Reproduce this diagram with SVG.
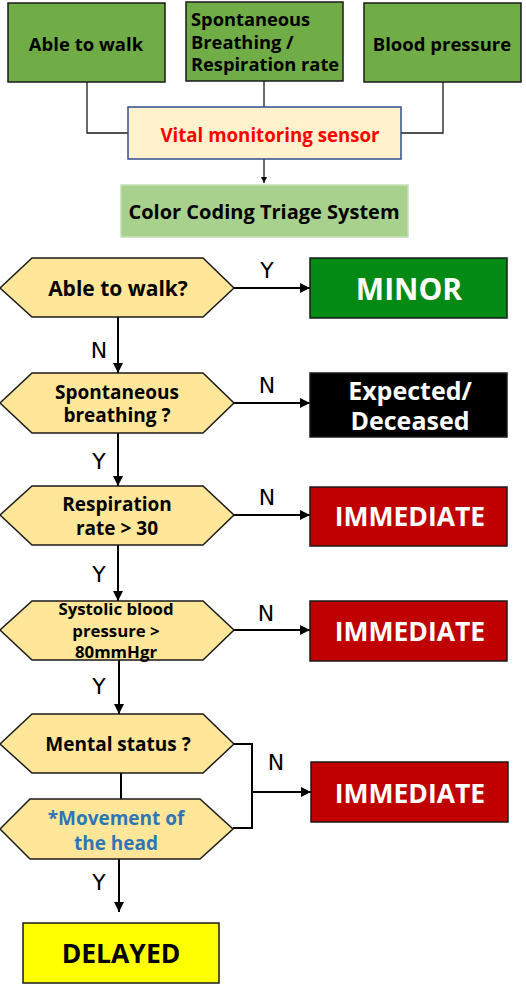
<svg xmlns="http://www.w3.org/2000/svg" width="526" height="984" viewBox="0 0 526 984">
<defs>
<marker id="ah" viewBox="0 0 10 10" refX="10" refY="5" markerWidth="10" markerHeight="10" markerUnits="userSpaceOnUse" orient="auto"><path d="M0,0 L10,5 L0,10 z" fill="#000"/></marker>
<marker id="ahs" viewBox="0 0 10 10" refX="10" refY="5" markerWidth="6" markerHeight="6" markerUnits="userSpaceOnUse" orient="auto"><path d="M0,0 L10,5 L0,10 z" fill="#000"/></marker>
<style>
.t{font-family:"Open Sans","Noto Sans",sans-serif;font-weight:bold;text-anchor:middle;dominant-baseline:central}
.src{fill:#70AD47;stroke:#1a1a1a;stroke-width:1.5}
.hex{fill:#FFE699;stroke:#1a1a1a;stroke-width:1.5}
.red{fill:#C00000;stroke:#1a1a1a;stroke-width:1.5}
.lbl{font-family:"DejaVu Sans","Noto Sans",sans-serif;font-size:22px;fill:#000;text-anchor:middle;dominant-baseline:central}
.c{fill:none;stroke:#000;stroke-width:2}
.cs{fill:none;stroke:#1a1a1a;stroke-width:1.3}
</style>
</defs>
<g id="connectors">
<path class="cs" d="M87,82 V133 H128"/>
<path class="cs" d="M264,81 V107"/>
<path class="cs" d="M443,82 V133 H401"/>
<path class="cs" d="M264,159 V183" marker-end="url(#ahs)"/>
<path class="c" d="M234,288 H310" marker-end="url(#ah)"/>
<path class="c" d="M118,317 V373" marker-end="url(#ah)"/>
<path class="c" d="M234,403 H310" marker-end="url(#ah)"/>
<path class="c" d="M118,433 V486" marker-end="url(#ah)"/>
<path class="c" d="M234,515 H310" marker-end="url(#ah)"/>
<path class="c" d="M118,545 V601" marker-end="url(#ah)"/>
<path class="c" d="M234,630 H310" marker-end="url(#ah)"/>
<path class="c" d="M119,660 V714" marker-end="url(#ah)"/>
<path class="c" d="M121,773 V799"/>
<path class="c" d="M234,744 H252 V828 H233"/>
<path class="c" d="M252,792 H311" marker-end="url(#ah)"/>
<path class="c" d="M119,859 V912" marker-end="url(#ah)"/>
<text class="lbl" x="267" y="270">Y</text>
<text class="lbl" x="99" y="350">N</text>
<text class="lbl" x="267" y="385">N</text>
<text class="lbl" x="99" y="461">Y</text>
<text class="lbl" x="267" y="497">N</text>
<text class="lbl" x="99" y="574">Y</text>
<text class="lbl" x="266" y="613">N</text>
<text class="lbl" x="99" y="686">Y</text>
<text class="lbl" x="276" y="762">N</text>
<text class="lbl" x="99" y="882">Y</text>
</g>
<g id="src-walk"><rect class="src" x="8" y="3" width="157" height="79"/><text class="t" x="86" y="43" font-size="18.5">Able to walk</text></g>
<g id="src-breath"><rect class="src" x="186" y="2" width="157" height="79"/>
<text class="t" x="191" y="18" font-size="18.3" style="text-anchor:start">Spontaneous</text>
<text class="t" x="191" y="41" font-size="18.3" style="text-anchor:start">Breathing /</text>
<text class="t" x="191" y="63" font-size="18.3" style="text-anchor:start">Respiration rate</text></g>
<g id="src-bp"><rect class="src" x="364" y="3" width="157" height="79"/><text class="t" x="442" y="43" font-size="18.5">Blood pressure</text></g>
<g id="sensor"><rect x="128" y="107" width="273" height="52" fill="#FFF2CC" stroke="#2F4F8F" stroke-width="1.5"/><text class="t" x="270" y="134" font-size="18.7" fill="#FF0000">Vital monitoring sensor</text></g>
<g id="triage"><rect x="121" y="185" width="287" height="52" fill="#A9D18E" stroke="#C5E0B4" stroke-width="1.5"/><text class="t" x="264" y="211" font-size="20">Color Coding Triage System</text></g>
<g id="q-walk"><polygon class="hex" points="0,288 32,258 203,258 234,288 203,317 32,317"/><text class="t" x="118" y="288" font-size="21">Able to walk?</text></g>
<g id="minor"><rect x="310" y="258" width="197" height="60" fill="#038A14" stroke="#1a1a1a" stroke-width="1.5"/><text class="t" x="409" y="288" font-size="30" fill="#fff">MINOR</text></g>
<g id="q-breath"><polygon class="hex" points="0,403 32,373 203,373 234,403 203,433 32,433"/><text class="t" x="117" y="392" font-size="19">Spontaneous</text><text class="t" x="117" y="415" font-size="19">breathing ?</text></g>
<g id="expected"><rect x="310" y="373" width="197" height="64" fill="#000" stroke="#1a1a1a" stroke-width="1.5"/><text class="t" x="410" y="390" font-size="25" fill="#fff">Expected/</text><text class="t" x="410" y="420" font-size="25" fill="#fff">Deceased</text></g>
<g id="q-resp"><polygon class="hex" points="0,515 32,486 203,486 234,515 203,545 32,545"/><text class="t" x="117" y="504" font-size="19">Respiration</text><text class="t" x="117" y="528" font-size="19">rate &gt;  30</text></g>
<g id="imm1"><rect class="red" x="310" y="487" width="197" height="59"/><text class="t" x="410" y="516" font-size="26.5" fill="#fff">IMMEDIATE</text></g>
<g id="q-bp"><polygon class="hex" points="0,630 32,601 203,601 234,630 203,660 32,660"/><text class="t" x="116" y="608" font-size="16.8">Systolic blood</text><text class="t" x="116" y="630" font-size="16.8">pressure &gt;</text><text class="t" x="116" y="651" font-size="16.8">80mmHgr</text></g>
<g id="imm2"><rect class="red" x="310" y="601" width="197" height="60"/><text class="t" x="410" y="631" font-size="26.5" fill="#fff">IMMEDIATE</text></g>
<g id="q-mental"><polygon class="hex" points="0,744 32,714 203,714 234,744 203,773 32,773"/><text class="t" x="118" y="744" font-size="19">Mental  status ?</text></g>
<g id="q-head"><polygon class="hex" points="0,829 30,799 200,799 233,829 200,859 30,859"/><text class="t" x="116" y="818" font-size="19" fill="#2E75B6">*Movement of</text><text class="t" x="116" y="843" font-size="19" fill="#2E75B6">the head</text></g>
<g id="imm3"><rect class="red" x="311" y="762" width="197" height="60"/><text class="t" x="410" y="793" font-size="26.5" fill="#fff">IMMEDIATE</text></g>
<g id="delayed"><rect x="23" y="923" width="196" height="60" fill="#FFFF00" stroke="#1a1a1a" stroke-width="1.5"/><text class="t" x="121" y="953" font-size="26.5">DELAYED</text></g>
</svg>
